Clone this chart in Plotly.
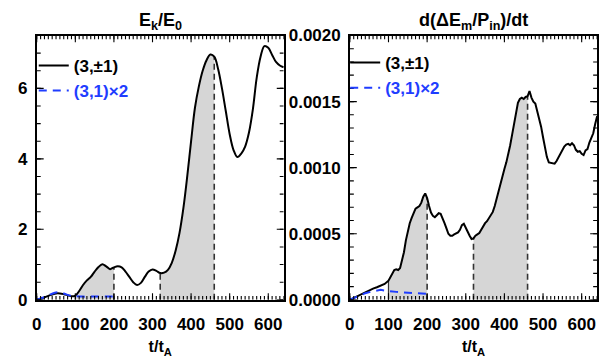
import numpy as np
import plotly.graph_objects as go

# ---------------- data ----------------
t_ek = [0, 10, 20, 30, 40, 50, 60, 70, 80, 90, 100, 110, 120, 130, 140, 150, 160, 170, 180, 190,
        200, 210, 220, 230, 240, 250, 260, 270, 280, 290, 300, 310, 320, 330, 340, 350, 360, 370,
        380, 390, 400, 410, 420, 430, 440, 450, 460, 470, 480, 490, 500, 510, 520, 530, 540, 550,
        560, 570, 580, 590, 600, 610, 620, 630, 640]
ek = [0.0, 0.03, 0.07, 0.11, 0.15, 0.18, 0.18, 0.16, 0.13, 0.10, 0.12, 0.25, 0.42, 0.55, 0.65,
      0.80, 0.93, 1.01, 0.95, 0.87, 0.92, 0.95, 0.92, 0.80, 0.65, 0.50, 0.42, 0.48, 0.65, 0.80,
      0.86, 0.82, 0.76, 0.77, 0.85, 1.05, 1.40, 1.90, 2.60, 3.50, 4.50, 5.45, 6.05, 6.50, 6.80,
      6.96, 6.90, 6.55, 6.00, 5.35, 4.70, 4.25, 4.05, 4.15, 4.35, 4.75, 5.40, 6.30, 6.90, 7.20,
      7.15, 6.95, 6.75, 6.65, 6.60]

t_ek31 = [0, 10, 20, 30, 40, 50, 60, 70, 80, 90, 100, 120, 140, 160, 180, 200]
ek31 = [0.0, 0.04, 0.08, 0.13, 0.17, 0.21, 0.21, 0.18, 0.14, 0.11, 0.10, 0.09, 0.09, 0.09, 0.09, 0.09]

t_p = [0, 10, 20, 30, 40, 50, 60, 70, 80, 90, 100, 105, 110, 115, 120, 125, 130, 135, 140, 145,
       150, 155, 160, 165, 170, 175, 180, 185, 190, 195, 200, 205, 210, 215, 220, 225, 230, 235,
       240, 245, 250, 255, 260, 265, 270, 275, 280, 285, 290, 295, 300, 305, 310, 315, 320, 325,
       330, 335, 340, 345, 350, 355, 360, 365, 370, 375, 380, 385, 390, 395, 400, 405, 410, 415,
       420, 425, 430, 435, 440, 445, 450, 455, 460, 465, 470, 475, 480, 485, 490, 495, 500, 505,
       510, 515, 520, 525, 530, 535, 540, 545, 550, 555, 560, 565, 570, 575, 580, 585, 590, 595,
       600, 605, 610, 615, 620, 625, 630, 635, 640]
dem = [0.0, 0.000015, 0.00003, 0.000045, 0.00006, 0.000075, 0.000085, 0.000095, 0.000105,
       0.00012, 0.000145, 0.000175, 0.000205, 0.000225, 0.00023, 0.000225, 0.00024, 0.00029,
       0.00036, 0.00045, 0.00053, 0.00058, 0.00062, 0.00066, 0.00069, 0.0007, 0.00071, 0.000735,
       0.00078, 0.000805, 0.00077, 0.00071, 0.00066, 0.000635, 0.000625, 0.00064, 0.000655,
       0.00065, 0.00062, 0.00058, 0.00054, 0.0005, 0.000485, 0.000485, 0.000495, 0.000505,
       0.00051, 0.00053, 0.000565, 0.000575, 0.00055, 0.000515, 0.000485, 0.00046, 0.000465,
       0.000485, 0.000495, 0.000505, 0.00053, 0.00056, 0.00058, 0.000595, 0.00062, 0.000645,
       0.000665, 0.00071, 0.00077, 0.00083, 0.00089, 0.00094, 0.00099, 0.00104, 0.0011, 0.00117,
       0.00125, 0.00134, 0.00143, 0.00149, 0.00152, 0.00153, 0.00152, 0.001535, 0.00154, 0.00158,
       0.00153, 0.0015, 0.001485, 0.00143, 0.00137, 0.00131, 0.00123, 0.00115, 0.00108, 0.00104,
       0.001035, 0.00103, 0.00103, 0.00105, 0.00108, 0.00111, 0.001135, 0.00116, 0.001175,
       0.00118, 0.00117, 0.001185, 0.00117, 0.001135, 0.00112, 0.001125, 0.001105, 0.001095,
       0.00113, 0.00114, 0.00119, 0.00123, 0.00126, 0.00133, 0.00139]

t_dem31 = [0, 20, 40, 60, 70, 80, 90, 100, 120, 140, 160, 180, 200]
dem31 = [0.0, 0.000025, 0.00005, 0.000065, 0.00007, 0.000075, 0.00007, 0.000065, 0.00006,
         0.000055, 0.00005, 0.000045, 0.000045]

shade_spans_left = [(100, 200), (320, 460)]
shade_spans_right = [(100, 200), (320, 460)]
vlines_left = [200, 320, 460]
vlines_right = [200, 320, 460]
solid_vlines_right = [100]

x_range = [0, 640]
ek_range = [0, 7.5]
dem_range = [0, 0.002]
x_tick_step = 100
x_minor_step = 10
ek_tick_step = 2
ek_minor_step = 0.5
dem_tick_step = 0.0005
dem_minor_step = 0.0001

# ---------------- figure ----------------
W, H = 612, 360
FONT = "Liberation Sans, Arial, Helvetica, sans-serif"
GREY = "#d6d6d6"
AXC = "black"
PANEL_W_PX = 249.0
PANEL_H_PX = 279.0

fig = go.Figure()


def add_ticks(xa, ya, xr, yr, xmaj, xmin, ymaj, ymin):
    """Inside tick marks on all four sides, built from the axis ranges and steps."""
    ux = (xr[1] - xr[0]) / PANEL_W_PX
    uy = (yr[1] - yr[0]) / PANEL_H_PX
    xs, ys = [], []
    for step, ln in ((xmin, 4), (xmaj, 7)):
        for v in np.arange(xr[0], xr[1] + 1e-9, step):
            xs += [v, v, None, v, v, None]
            ys += [yr[0], yr[0] + ln * uy, None, yr[1], yr[1] - ln * uy, None]
    for step, ln in ((ymin, 4), (ymaj, 7)):
        for v in np.arange(yr[0], yr[1] + step * 1e-6, step):
            xs += [xr[0], xr[0] + ln * ux, None, xr[1], xr[1] - ln * ux, None]
            ys += [v, v, None, v, v, None]
    fig.add_trace(go.Scatter(x=xs, y=ys, mode="lines", line=dict(color="black", width=1.1),
                             xaxis=xa, yaxis=ya, showlegend=False, hoverinfo="skip",
                             connectgaps=False))


def add_panel(t, y, t2, y2, spans, vls, solid_vls, xa, ya, legend, shape):
    t = np.asarray(t, float)
    y = np.asarray(y, float)
    for a, b in spans:
        inside = (t > a) & (t < b)
        xs = np.concatenate([[a], t[inside], [b]])
        ys = np.concatenate([[np.interp(a, t, y)], y[inside], [np.interp(b, t, y)]])
        fig.add_trace(go.Scatter(x=xs, y=ys, mode="lines", fill="tozeroy", fillcolor=GREY,
                                 line=dict(width=0, color=GREY, shape=shape), xaxis=xa, yaxis=ya,
                                 showlegend=False, hoverinfo="skip"))
    for v in vls:
        fig.add_trace(go.Scatter(x=[v, v], y=[0, np.interp(v, t, y)], mode="lines",
                                 line=dict(color="#333333", width=1.6, dash="6px,4px"),
                                 xaxis=xa, yaxis=ya, showlegend=False, hoverinfo="skip"))
    for v in solid_vls:
        fig.add_trace(go.Scatter(x=[v, v], y=[0, np.interp(v, t, y)], mode="lines",
                                 line=dict(color="#333333", width=1.2),
                                 xaxis=xa, yaxis=ya, showlegend=False, hoverinfo="skip"))
    fig.add_trace(go.Scatter(x=t, y=y, mode="lines", name="(3,±1)",
                             line=dict(color="black", width=2, shape=shape),
                             xaxis=xa, yaxis=ya, legend=legend))
    fig.add_trace(go.Scatter(x=t2, y=y2, mode="lines",
                             name="<span style='color:#1f3dff'>(3,1)×2</span>",
                             line=dict(color="#1f3dff", width=2, dash="8px,6px", shape=shape),
                             xaxis=xa, yaxis=ya, legend=legend))


add_panel(t_ek, ek, t_ek31, ek31, shade_spans_left, vlines_left, [], "x", "y", "legend", "spline")
add_panel(t_p, dem, t_dem31, dem31, shade_spans_right, vlines_right, solid_vlines_right,
          "x2", "y2", "legend2", "linear")
add_ticks("x", "y", x_range, ek_range, x_tick_step, x_minor_step, ek_tick_step, ek_minor_step)
add_ticks("x2", "y2", x_range, dem_range, x_tick_step, x_minor_step, dem_tick_step,
          dem_minor_step)

y_dom = [1 - 307 / H, 1 - 28 / H]
TF = dict(family=FONT, size=17, color="black", weight="bold")
axis_common = dict(showline=True, linecolor=AXC, linewidth=1.5, mirror=True,
                   ticks="", showgrid=False, zeroline=False, tickmode="linear", tick0=0,
                   tickfont=TF, layer="above traces")

xa = dict(axis_common, range=x_range, dtick=x_tick_step, ticklabelstandoff=8,
          title=dict(text="t/t<sub>A</sub>", font=dict(family=FONT, size=16, color="black",
                                                    weight="bold"), standoff=8))

fig.update_layout(
    width=W, height=H,
    margin=dict(l=0, r=0, t=0, b=0),
    paper_bgcolor="white", plot_bgcolor="white",
    font=dict(family=FONT, color="black"),
    xaxis=dict(xa, domain=[32 / W, 281 / W], anchor="y"),
    xaxis2=dict(xa, domain=[347.7 / W, 597 / W], anchor="y2"),
    yaxis=dict(axis_common, domain=y_dom, range=ek_range, dtick=ek_tick_step,
               ticklabelstandoff=4, anchor="x"),
    yaxis2=dict(axis_common, domain=y_dom, range=dem_range, dtick=dem_tick_step,
                tickformat=".4f", ticklabelstandoff=4, anchor="x2"),
    legend=dict(x=29 / W, y=1 - 41 / H, xanchor="left", yanchor="top", bgcolor="rgba(0,0,0,0)",
                font=dict(family=FONT, size=17, color="black", weight="bold"),
                tracegroupgap=0, itemwidth=30),
    legend2=dict(x=343 / W, y=1 - 38 / H, xanchor="left", yanchor="top",
                 bgcolor="rgba(0,0,0,0)",
                 font=dict(family=FONT, size=17, color="black", weight="bold"),
                 tracegroupgap=0, itemwidth=30),
    annotations=[
        dict(text="E<sub>k</sub>/E<sub>0</sub>", x=156.5 / W, y=1 - 13 / H, xref="paper",
             yref="paper", showarrow=False, xanchor="center", yanchor="middle",
             font=dict(family=FONT, size=18, color="black", weight="bold")),
        dict(text="d(ΔE<sub>m</sub>/P<sub>in</sub>)/dt", x=472 / W, y=1 - 13 / H,
             xref="paper", yref="paper", showarrow=False, xanchor="center", yanchor="middle",
             font=dict(family=FONT, size=18, color="black", weight="bold")),
    ],
)

fig.write_html("out.html")
